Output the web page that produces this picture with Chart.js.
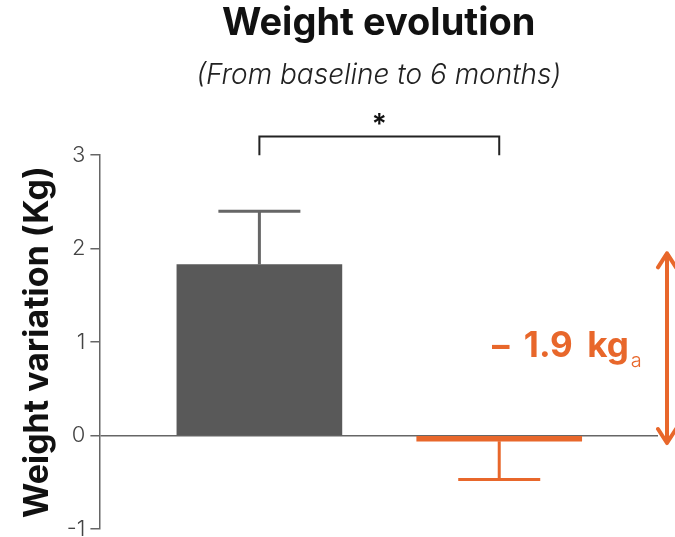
<!DOCTYPE html>
<html>
<head>
<meta charset="utf-8">
<script src="https://cdn.jsdelivr.net/npm/chart.js@4.4.1/dist/chart.umd.min.js"></script>
<style>
  html, body { margin: 0; padding: 0; background: #fff; overflow: hidden; }
  #wrap { width: 675px; height: 545px; }
</style>
</head>
<body>
<div id="wrap"><canvas id="barChart"></canvas></div>
<script>
// Data
const groups = ['Group 1', 'Group 2'];
const meanChange = [1.83, -0.06];
const errorSize = [0.57, 0.41];
const yTicks = [-1, 0, 1, 2, 3];
const diffRange = [1.95, -0.08];   // span covered by the orange arrow
const diffLabel = '– 1.9 kg';
const diffNote = 'a';

const DARK = '#595959';
const ORANGE = '#E8672B';
const FONT = 'Inter';
const barColors = [DARK, ORANGE];
const errColors = ['#666666', ORANGE];

// error bars, significance bracket, difference arrow
const extrasPlugin = {
    id: 'extras',
    afterDatasetsDraw(chart) {
        const { ctx, chartArea, scales: { x, y } } = chart;
        const meta = chart.getDatasetMeta(0);
        ctx.save();

        // error bars (drawn away from zero)
        ctx.lineWidth = 3;
        meta.data.forEach((bar, i) => {
            const v = meanChange[i];
            const end = v >= 0 ? v + errorSize[i] : v - errorSize[i];
            const y0 = y.getPixelForValue(v);
            const y1 = y.getPixelForValue(end);
            ctx.strokeStyle = errColors[i];
            ctx.beginPath();
            ctx.moveTo(bar.x, y0);
            ctx.lineTo(bar.x, y1);
            ctx.moveTo(bar.x - 41, y1);
            ctx.lineTo(bar.x + 41, y1);
            ctx.stroke();
        });

        // significance bracket
        const xa = x.getPixelForValue(0);
        const xb = x.getPixelForValue(1);
        const yb = y.getPixelForValue(3.2);
        const yt = y.getPixelForValue(3.0);
        ctx.strokeStyle = '#222';
        ctx.lineWidth = 2;
        ctx.beginPath();
        ctx.moveTo(xa, yt);
        ctx.lineTo(xa, yb);
        ctx.lineTo(xb, yb);
        ctx.lineTo(xb, yt);
        ctx.stroke();
        ctx.fillStyle = '#111';
        ctx.font = '600 28px ' + FONT;
        ctx.textAlign = 'center';
        ctx.textBaseline = 'alphabetic';
        ctx.fillText('*', (xa + xb) / 2, yb - 3);

        // difference arrow
        const ax = chartArea.right + 9;
        const top = y.getPixelForValue(diffRange[0]);
        const bottom = y.getPixelForValue(diffRange[1]);
        ctx.strokeStyle = ORANGE;
        ctx.lineWidth = 4;
        ctx.lineCap = 'round';
        ctx.lineJoin = 'round';
        ctx.beginPath();
        ctx.moveTo(ax, top);
        ctx.lineTo(ax, bottom);
        ctx.moveTo(ax - 9, top + 14);
        ctx.lineTo(ax, top);
        ctx.lineTo(ax + 9, top + 14);
        ctx.moveTo(ax - 9, bottom - 14);
        ctx.lineTo(ax, bottom);
        ctx.lineTo(ax + 9, bottom - 14);
        ctx.stroke();

        // difference label
        const mid = (top + bottom) / 2;
        ctx.fillStyle = ORANGE;
        ctx.textAlign = 'left';
        ctx.font = 'bold 35px ' + FONT;
        ctx.wordSpacing = '6px';
        const tx = ax - 175;
        ctx.fillText(diffLabel, tx, mid + 9);
        const w = ctx.measureText(diffLabel).width;
        ctx.wordSpacing = '0px';
        ctx.font = '300 20px ' + FONT;
        ctx.fillText(diffNote, tx + w + 2, mid + 19);

        ctx.restore();
    }
};

function renderChart() {
    const el = document.getElementById('barChart');
    new Chart(el, {
        type: 'bar',
        data: {
            labels: groups,
            datasets: [{
                data: meanChange.map((v, i) => ({ x: i, y: v })),
                backgroundColor: barColors,
                borderWidth: 0,
                barThickness: 165
            }]
        },
        options: {
            responsive: true,
            maintainAspectRatio: false,
            animation: false,
            layout: { padding: { left: 17, right: 17, top: 0, bottom: 0 } },
            plugins: {
                legend: { display: false },
                tooltip: { enabled: false },
                title: {
                    display: true,
                    fullSize: false,
                    text: 'Weight evolution',
                    color: '#111',
                    font: { family: FONT, size: 38, weight: 'bold' },
                    padding: { top: 1, bottom: 0 }
                },
                subtitle: {
                    display: true,
                    fullSize: false,
                    text: '(From baseline to 6 months)',
                    color: '#222',
                    font: { family: FONT, size: 28, style: 'italic', weight: '300' },
                    padding: { top: 12, bottom: 63 }
                }
            },
            scales: {
                x: {
                    type: 'linear',
                    display: false,
                    offset: false,
                    min: -0.667,
                    max: 1.662
                },
                y: {
                    min: yTicks[0],
                    max: yTicks[yTicks.length - 1],
                    afterBuildTicks: (axis) => { axis.ticks = yTicks.map(v => ({ value: v })); },
                    border: { display: true, color: '#666', width: 1.5 },
                    grid: {
                        drawOnChartArea: true,
                        color: (c) => c.tick && c.tick.value === 0 ? '#666' : 'rgba(0,0,0,0)',
                        lineWidth: 1.5,
                        tickColor: '#666',
                        tickLength: 9
                    },
                    ticks: {
                        color: '#444',
                        padding: 5,
                        font: { family: FONT, size: 22, weight: '300', lineHeight: 1 }
                    },
                    title: {
                        display: true,
                        text: 'Weight variation (Kg)',
                        color: '#111',
                        font: { family: FONT, size: 34, weight: 'bold' },
                        padding: { top: 0, bottom: 4 }
                    }
                }
            }
        },
        plugins: [extrasPlugin]
    });
}

document.addEventListener('DOMContentLoaded', () => {
    renderChart();
});
</script>
</body>
</html>
